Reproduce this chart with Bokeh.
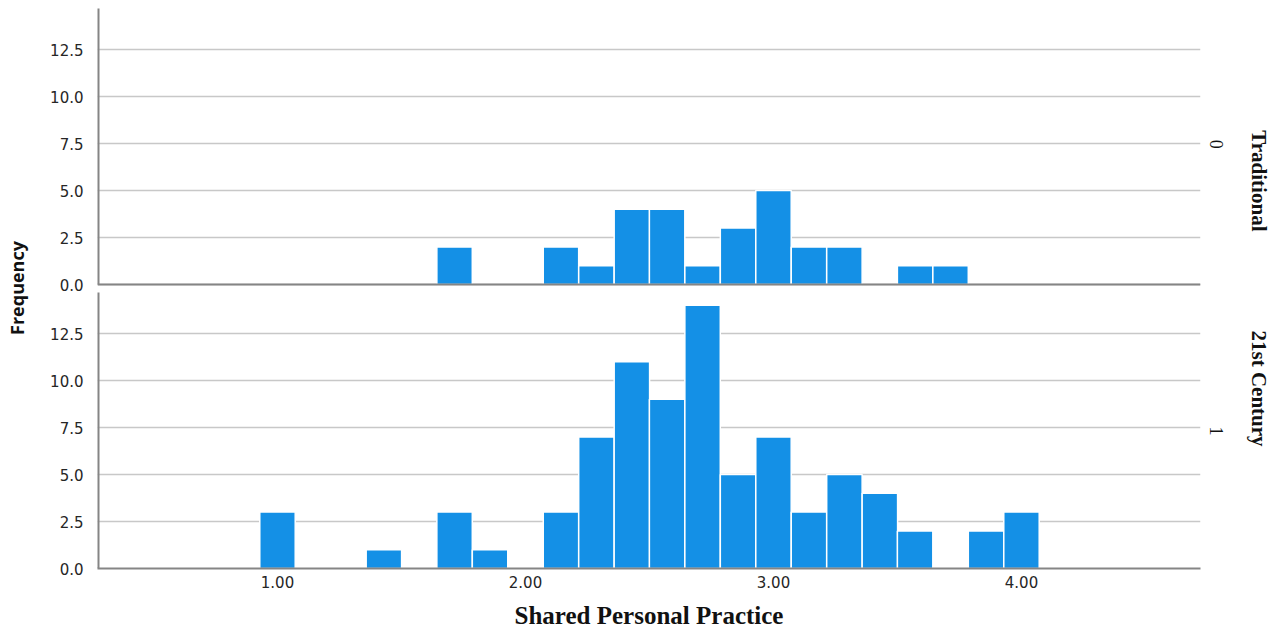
import math
from bokeh.plotting import figure
from bokeh.models import (Range1d, LinearAxis, Grid, FixedTicker, CustomJSTickFormatter,
                          NumeralTickFormatter, ColumnDataSource)
from bokeh.embed import file_html
from bokeh.resources import INLINE

# ---------------- data ----------------
bin_width = 1 / 7
top_centers = [1.714, 2.143, 2.286, 2.429, 2.571, 2.714, 2.857, 3.000, 3.143, 3.286, 3.571, 3.714]
top_counts = [2, 2, 1, 4, 4, 1, 3, 5, 2, 2, 1, 1]

bottom_centers = [1.000, 1.429, 1.714, 1.857, 2.143, 2.286, 2.429, 2.571, 2.714, 2.857,
                  3.000, 3.143, 3.286, 3.429, 3.571, 3.857, 4.000]
bottom_counts = [3, 1, 3, 1, 3, 7, 11, 9, 14, 5, 7, 3, 5, 4, 2, 2, 3]

y_ticks = [0, 2.5, 5.0, 7.5, 10.0, 12.5]
x_ticks = [1, 2, 3, 4]
panel_names = ["Traditional", "21st Century"]
panel_codes = ["0", "1"]
x_title = "Shared Personal Practice"
y_title = "Frequency"

# ---------------- layout ----------------
x_start, x_end = 0.2742, 4.7218
px_per_count = 18.8
frame_h = 561
y_end = frame_h / px_per_count          # default (bottom panel) range end
offset = 284 / px_per_count             # top panel's zero, in bottom-panel units
panel_top = 276 / px_per_count          # visible height of each panel

BAR = "#1490e6"
GRID = "#c8c8c8"
AXIS = "#858585"
TICK_TXT = "#262626"

p = figure(width=1285, height=631, output_backend="svg", toolbar_location=None,
           x_range=Range1d(x_start, x_end), y_range=Range1d(0, y_end),
           min_border_left=97, min_border_right=85, min_border_top=7, min_border_bottom=63,
           x_axis_location=None, y_axis_location=None)
p.extra_y_ranges = {"top": Range1d(-offset, y_end - offset)}
p.outline_line_color = None
p.grid.visible = False

# grids
for rn in ["default", "top"]:
    g = Grid(dimension=1, ticker=FixedTicker(ticks=y_ticks), grid_line_color=GRID,
             grid_line_width=1.3, y_range_name=rn)
    p.add_layout(g, "center")

# bars
src_top = ColumnDataSource(dict(x=top_centers, top=top_counts))
src_bot = ColumnDataSource(dict(x=bottom_centers, top=bottom_counts))
p.vbar(x="x", top="top", bottom=0, width=bin_width, source=src_top, y_range_name="top",
       fill_color=BAR, line_color="white", line_width=1.5)
p.vbar(x="x", top="top", bottom=0, width=bin_width, source=src_bot,
       fill_color=BAR, line_color="white", line_width=1.5)

# axis lines for each panel
p.segment(x0=[x_start], y0=[0], x1=[x_end], y1=[0], y_range_name="top",
          line_color=AXIS, line_width=2)
for rn in ["default", "top"]:
    p.segment(x0=[x_start], y0=[0], x1=[x_start], y1=[panel_top], y_range_name=rn,
              line_color=AXIS, line_width=4)

# left axis (labels for both panels)
left = LinearAxis(ticker=FixedTicker(ticks=y_ticks + [t + offset for t in y_ticks]),
                  formatter=CustomJSTickFormatter(args=dict(off=offset),
                      code="const v = tick > off - 1 ? tick - off : tick; return v.toFixed(1);"))
left.axis_line_color = None
left.major_tick_line_color = None
left.minor_tick_line_color = None
left.major_label_standoff = 8
left.major_label_text_font = "DejaVu Sans"
left.major_label_text_font_size = "15px"
left.major_label_text_color = TICK_TXT
left.axis_label = y_title
left.axis_label_text_font = "Open Sans"
left.axis_label_text_font_style = "bold"
left.axis_label_text_font_size = "18px"
left.axis_label_text_color = "#111111"
left.axis_label_standoff = 18
p.add_layout(left, "left")

below = LinearAxis(ticker=FixedTicker(ticks=x_ticks), formatter=NumeralTickFormatter(format="0.00"))
below.axis_line_color = AXIS
below.axis_line_width = 2
below.major_tick_line_color = None
below.minor_tick_line_color = None
below.major_label_standoff = 1
below.major_label_text_font = "DejaVu Sans"
below.major_label_text_font_size = "15px"
below.major_label_text_color = TICK_TXT
below.axis_label = x_title
below.axis_label_text_font = "Liberation Serif"
below.axis_label_text_font_style = "bold"
below.axis_label_text_font_size = "25px"
below.axis_label_text_color = "#111111"
below.axis_label_standoff = 11
p.add_layout(below, "below")

# right side: panel codes and panel names (tick labels of two right axes;
# each label starts at its tick and reads downward)
pick = "let b = 0; for (let i = 0; i < pos.length; i++) { if (Math.abs(pos[i] - tick) < Math.abs(pos[b] - tick)) b = i; } return labels[b];"

code_pos = [offset + 7.7, 7.55]
codes_axis = LinearAxis(ticker=FixedTicker(ticks=code_pos),
                        formatter=CustomJSTickFormatter(args=dict(pos=code_pos, labels=panel_codes), code=pick))
name_pos = [offset + 8.2, 12.66]
names_axis = LinearAxis(ticker=FixedTicker(ticks=name_pos),
                        formatter=CustomJSTickFormatter(args=dict(pos=name_pos, labels=panel_names), code=pick))
for ax, size, style, standoff in [(codes_axis, "18px", "normal", 10), (names_axis, "21px", "bold", 20)]:
    ax.axis_line_color = None
    ax.major_tick_line_color = None
    ax.minor_tick_line_color = None
    ax.major_label_orientation = -math.pi / 2
    ax.major_label_text_font = "Liberation Serif"
    ax.major_label_text_font_size = size
    ax.major_label_text_font_style = style
    ax.major_label_text_color = "#111111"
    ax.major_label_standoff = standoff
    p.add_layout(ax, "right")

open("out.html", "w").write(file_html(p, INLINE))
